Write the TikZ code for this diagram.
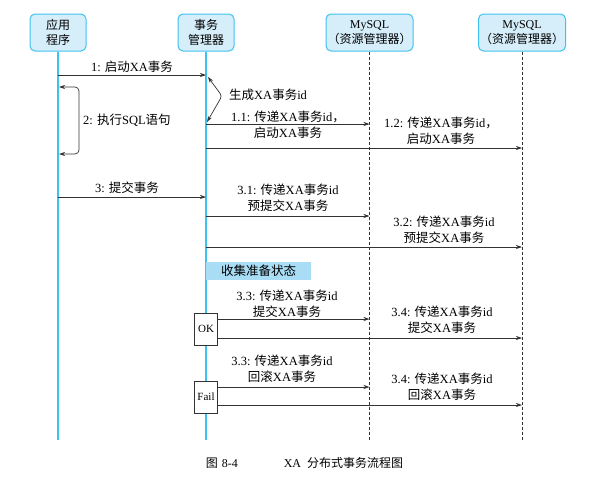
\documentclass[tikz,border=0pt]{standalone}
\usepackage{fontspec}
\setmainfont{Liberation Serif}
\newfontfamily\cjk{Noto Sans CJK SC}
\usetikzlibrary{arrows.meta,calc}
% switch to the CJK font for Chinese characters
\XeTeXinterchartokenstate=1
\newXeTeXintercharclass\cjkclass
\count255="4E00
\loop\XeTeXcharclass\count255=\cjkclass\advance\count255 by 1 \ifnum\count255<"A000 \repeat
\XeTeXcharclass"FF0C=\cjkclass
\XeTeXcharclass"FF08=\cjkclass
\XeTeXcharclass"FF09=\cjkclass
\XeTeXinterchartoks 0 \cjkclass = {\cjk}
\XeTeXinterchartoks 4095 \cjkclass = {\cjk}
\XeTeXinterchartoks \cjkclass 0 = {\rmfamily}
\XeTeXinterchartoks \cjkclass 4095 = {\rmfamily}
\definecolor{boxline}{HTML}{3DC2F0}
\definecolor{boxfill}{HTML}{D6EEFA}
\definecolor{notefill}{HTML}{A9DDF6}
\definecolor{msgline}{HTML}{333333}
\tikzset{
 actor/.style={draw=boxline,fill=boxfill,rounded corners=5pt,line width=1pt,minimum height=37pt,align=center,inner sep=1pt,font=\fontsize{12}{15}\selectfont},
 life/.style={boxline,line width=1.4pt},
 rmlife/.style={msgline,dash pattern=on 3pt off 2pt,line width=.7pt},
 msg/.style={msgline,line width=.7pt,-{Stealth[length=6pt,width=4pt]}},
 twoway/.style={msgline,line width=.7pt,{Stealth[length=6pt,width=4pt]}-{Stealth[length=6pt,width=4pt]}},
 lab/.style={align=center,font=\fontsize{12.5}{16}\selectfont,inner sep=0pt},
 flag/.style={draw=msgline,fill=white,line width=.7pt,minimum width=23pt,minimum height=32pt,inner sep=0pt,font=\fontsize{11}{13}\selectfont},
}
\begin{document}
\begin{tikzpicture}[x=1pt,y=-1pt]
\useasboundingbox (0,0) rectangle (589,485);
% participants
\node[actor,minimum width=56pt] (app) at (58,32.5) {应用\\程序};
\node[actor,minimum width=56pt] (tm) at (206,32.5) {事务\\管理器};
\node[actor,minimum width=87pt] (rma) at (369.5,32.5) {MySQL\\（资源管理器）};
\node[actor,minimum width=87pt] (rmb) at (522,32.5) {MySQL\\（资源管理器）};
% lifelines
\coordinate (append) at (app |- 0,440);
\coordinate (tmend) at (tm |- 0,440);
\coordinate (rmaend) at (rma |- 0,440);
\coordinate (rmbend) at (rmb |- 0,440);
\draw[life] (app.south) -- (append);
\draw[life] (tm.south) -- (tmend);
\draw[rmlife] (rma.south) -- (rmaend);
\draw[rmlife] (rmb.south) -- (rmbend);
% start
\draw[msg] (app |- 0,75) -- (tm |- 0,75);
\node[lab] (l1) at (132,67) {1: 启动XA事务};
\draw[twoway,rounded corners=3pt] ($(tm |- 0,77)+(2,0)$) -- (222,96) -- ($(tm |- 0,122)+(1,0)$);
\node[lab,anchor=west] (lgen) at (229,95) {生成XA事务id};
\draw[twoway,rounded corners=4pt] ($(app |- 0,87)+(1,0)$) -- (79,87) -- (79,154) -- ($(app |- 0,154)+(1,0)$);
\node[lab,anchor=west] (l2) at (83,120) {2: 执行SQL语句};
\draw[msg] (tm |- 0,124) -- (rma |- 0,124);
\node[lab] (l11) at (288,125) {1.1: 传递XA事务id，\\启动XA事务};
\draw[msg] (tm |- 0,148) -- (rmb |- 0,148);
\node[lab] (l12) at (441,131) {1.2: 传递XA事务id，\\启动XA事务};
% commit
\draw[msg] (app |- 0,197) -- (tm |- 0,197);
\node[lab] (l3) at (127,188) {3: 提交事务};
\draw[msg] (tm |- 0,216) -- (rma |- 0,216);
\node[lab] (l31) at (288,198) {3.1: 传递XA事务id\\预提交XA事务};
\draw[msg] (tm |- 0,247) -- (rmb |- 0,247);
\node[lab] (l32) at (444,230) {3.2: 传递XA事务id\\预提交XA事务};
\node[lab,fill=notefill,minimum width=105pt,minimum height=18pt] (note) at (258.5,271) {收集准备状态};
% OK
\node[flag] (ok) at (206,329) {OK};
\draw[msg] (ok.east |- 0,319) -- (rma |- 0,319);
\node[lab] (l33a) at (287,303.5) {3.3: 传递XA事务id\\提交XA事务};
\draw[msg] (ok.east |- 0,338) -- (rmb |- 0,338);
\node[lab] (l34a) at (442,320) {3.4: 传递XA事务id\\提交XA事务};
% Fail
\node[flag] (fail) at (206,397) {Fail};
\draw[msg] (fail.east |- 0,387) -- (rma |- 0,387);
\node[lab] (l33b) at (282,369) {3.3: 传递XA事务id\\回滚XA事务};
\draw[msg] (fail.east |- 0,405) -- (rmb |- 0,405);
\node[lab] (l34b) at (442,387) {3.4: 传递XA事务id\\回滚XA事务};
% caption
\node[lab,font=\fontsize{12}{14}\selectfont] (cap) at (304.5,463) {图\hspace{4pt}8-4\hspace{46pt}XA\hspace{6pt}分布式事务流程图};
\end{tikzpicture}
\end{document}
